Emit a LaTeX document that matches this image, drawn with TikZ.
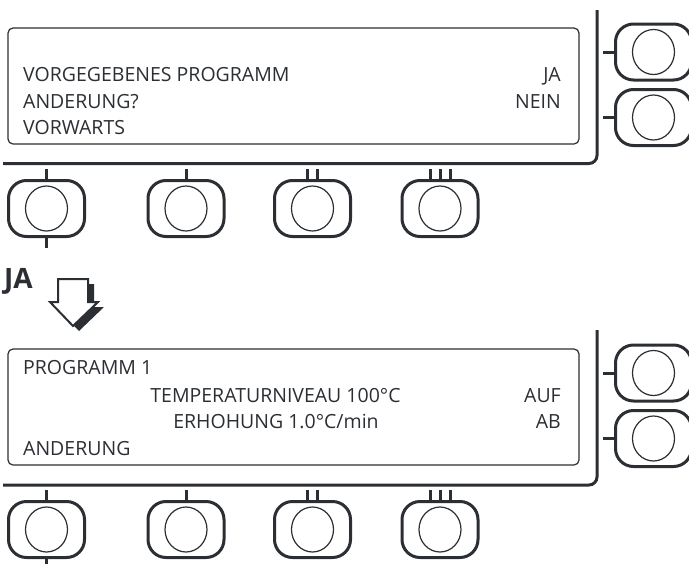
\documentclass[tikz,border=0pt]{standalone}
\usepackage{fontspec}
\setmainfont{Open Sans}
\usepackage{tikz}
\usetikzlibrary{positioning}
\definecolor{panelink}{RGB}{43,46,51}

\begin{document}
\begin{tikzpicture}[x=1pt, y=-1pt,
  lcd/.style={rectangle, rounded corners=5pt, draw=panelink, line width=1.2pt,
              minimum width=571pt, minimum height=116pt, inner sep=0pt},
  knob/.style={rectangle, rounded corners=18pt, draw=panelink, line width=3pt,
               minimum width=76pt, minimum height=56pt, inner sep=0pt,
               path picture={\draw[panelink, line width=1.2pt]
                 (path picture bounding box.center)
                 ellipse [x radius=21pt, y radius=22.5pt];}},
  frame/.style={draw=panelink, line width=3pt, rounded corners=8pt},
  tick/.style={draw=panelink, line width=3pt},
  txt/.style={inner sep=0pt, text=panelink, font=\fontsize{19.5}{22}\selectfont},
  lt/.style={txt, anchor=base west},
  rt/.style={txt, anchor=base east},
  ct/.style={txt, anchor=base}
]
\useasboundingbox (0,0) rectangle (689,563);

% upper display
\draw[frame] (597,10) -- (597,163.5) -- (3,163.5);
\node[lcd] (disp1) at (293.5,86) {};
\node[lt] (vorg)  at (23,81)  {VORGEGEBENES PROGRAMM};
\node[lt] (aend1) at (23,108) {ANDERUNG?};
\node[lt] (vorw)  at (23,134) {VORWARTS};
\node[rt] (ja1)   at (561,81)  {JA};
\node[rt] (nein)  at (561,108) {NEIN};

\node[knob] (r1) at (653.5,52)    {};
\node[knob] (r2) at (653.5,117.5) {};
\draw[tick] (r1.west) -- ++(-11,0);
\draw[tick] (r2.west) -- ++(-11,0);

\node[knob] (k1) at (46.5,208.5)  {};
\node[knob] (k2) at (186,208.5)   {};
\node[knob] (k3) at (312.5,208.5) {};
\node[knob] (k4) at (440,208.5)   {};
\draw[tick] (k1.north) -- ++(0,-10.5);
\draw[tick] (k1.south) -- ++(0,9.5);
\draw[tick] (k2.north) -- ++(0,-10.5);
\draw[tick] ([xshift=-5pt]k3.north) -- ++(0,-10.5);
\draw[tick] ([xshift=5pt]k3.north)  -- ++(0,-10.5);
\draw[tick] ([xshift=-10pt]k4.north) -- ++(0,-10.5);
\draw[tick] (k4.north) -- ++(0,-10.5);
\draw[tick] ([xshift=10pt]k4.north) -- ++(0,-10.5);

% JA arrow
\node[txt, anchor=base west, font=\bfseries\fontsize{28}{30}\selectfont]
  (ja) at (4,288) {JA};
\fill[panelink, shift={(6,5)}] (58,279) -- (88,279) -- (88,302) -- (98,302)
  -- (73,326) -- (50,302) -- (58,302) -- cycle;
\draw[panelink, fill=white, line width=2pt, line join=miter]
  (58,279) -- (88,279) -- (88,302) -- (98,302)
  -- (73,326) -- (50,302) -- (58,302) -- cycle;

% lower display
\draw[frame] (597,330) -- (597,485) -- (3,485);
\node[lcd] (disp2) at (293.5,407) {};
\node[lt] (prog)  at (23,374)  {PROGRAMM 1};
\node[ct] (temp)  at (275.5,402) {TEMPERATURNIVEAU 100°C};
\node[ct] (erh)   at (276,428) {ERHOHUNG 1.0°C/min};
\node[lt] (aend2) at (23,455)  {ANDERUNG};
\node[rt] (auf)   at (561,402) {AUF};
\node[rt] (ab)    at (561,428) {AB};

\node[knob] (r3) at (653.5,373)   {};
\node[knob] (r4) at (653.5,438.5) {};
\draw[tick] (r3.west) -- ++(-11,0);
\draw[tick] (r4.west) -- ++(-11,0);

\node[knob] (k5) at (46.5,529.5)  {};
\node[knob] (k6) at (186,529.5)   {};
\node[knob] (k7) at (312.5,529.5) {};
\node[knob] (k8) at (440,529.5)   {};
\draw[tick] (k5.north) -- ++(0,-10.5);
\draw[tick] (k5.south) -- ++(0,9.5);
\draw[tick] (k6.north) -- ++(0,-10.5);
\draw[tick] ([xshift=-5pt]k7.north) -- ++(0,-10.5);
\draw[tick] ([xshift=5pt]k7.north)  -- ++(0,-10.5);
\draw[tick] ([xshift=-10pt]k8.north) -- ++(0,-10.5);
\draw[tick] (k8.north) -- ++(0,-10.5);
\draw[tick] ([xshift=10pt]k8.north) -- ++(0,-10.5);
\end{tikzpicture}
\end{document}
